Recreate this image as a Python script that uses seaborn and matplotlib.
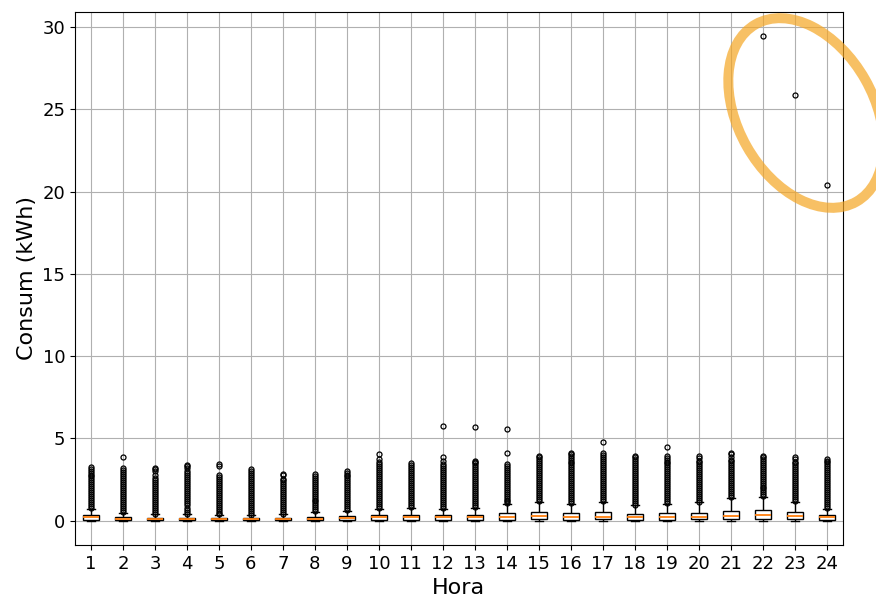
import numpy as np
import pandas as pd
import matplotlib
matplotlib.use("Agg")
import matplotlib.pyplot as plt
import seaborn as sns
from matplotlib.patches import Ellipse

hours = list(range(1, 25))
q1 = [0.06, 0.04, 0.03, 0.03, 0.03, 0.03, 0.03, 0.04, 0.05, 0.06, 0.06, 0.06,
      0.06, 0.07, 0.08, 0.07, 0.08, 0.07, 0.07, 0.08, 0.09, 0.10, 0.09, 0.06]
median = [0.22, 0.13, 0.10, 0.10, 0.08, 0.08, 0.10, 0.13, 0.17, 0.20, 0.20, 0.20,
          0.20, 0.22, 0.26, 0.22, 0.24, 0.22, 0.22, 0.24, 0.28, 0.33, 0.28, 0.20]
q3 = [0.34, 0.22, 0.18, 0.18, 0.16, 0.15, 0.18, 0.24, 0.28, 0.34, 0.36, 0.34,
      0.36, 0.45, 0.52, 0.46, 0.52, 0.42, 0.46, 0.50, 0.62, 0.64, 0.52, 0.34]
whisker_low = [0.0] * 24
whisker_high = [0.74, 0.47, 0.39, 0.39, 0.34, 0.32, 0.39, 0.52, 0.60, 0.74, 0.79, 0.74,
                0.79, 1.00, 1.16, 1.03, 1.16, 0.93, 1.03, 1.11, 1.40, 1.43, 1.15, 0.74]

out_h01 = [0.80, 0.92, 1.03, 1.15, 1.27, 1.38, 1.50, 1.62, 1.74, 1.85, 1.97, 2.09, 2.21, 2.33,
           2.45, 2.57, 2.69, 2.81, 2.93, 3.05, 3.16, 3.25]
out_h02 = [0.52, 0.64, 0.76, 0.88, 1.00, 1.12, 1.25, 1.37, 1.49, 1.61, 1.73, 1.86, 1.98, 2.10,
           2.23, 2.35, 2.48, 2.60, 2.72, 2.85, 2.97, 3.08, 3.20, 3.90]
out_h03 = [0.43, 0.55, 0.67, 0.79, 0.91, 1.03, 1.15, 1.27, 1.39, 1.51, 1.63, 1.75, 1.88, 2.00,
           2.12, 2.25, 2.38, 2.50, 2.62, 2.75, 3.05, 3.12, 3.18]
out_h04 = [0.43, 0.55, 0.68, 0.80, 0.93, 1.05, 1.18, 1.30, 1.43, 1.55, 1.68, 1.80, 1.93, 2.05,
           2.18, 2.30, 2.43, 2.55, 2.68, 2.80, 2.93, 3.05, 3.18, 3.30, 3.40]
out_h05 = [0.38, 0.50, 0.62, 0.74, 0.86, 0.98, 1.10, 1.22, 1.34, 1.46, 1.58, 1.70, 1.82, 1.94,
           2.06, 2.18, 2.30, 2.42, 2.55, 2.68, 2.80, 3.35, 3.42]
out_h06 = [0.36, 0.48, 0.60, 0.72, 0.84, 0.96, 1.08, 1.20, 1.32, 1.44, 1.56, 1.68, 1.80, 1.92,
           2.04, 2.16, 2.28, 2.40, 2.52, 2.64, 2.76, 2.88, 3.00, 3.12]
out_h07 = [0.43, 0.55, 0.67, 0.79, 0.91, 1.03, 1.15, 1.27, 1.39, 1.51, 1.63, 1.75, 1.87, 1.99,
           2.11, 2.23, 2.35, 2.47, 2.55, 2.75, 2.85]
out_h08 = [0.57, 0.69, 0.81, 0.93, 1.05, 1.17, 1.29, 1.41, 1.53, 1.65, 1.77, 1.89, 2.01, 2.13,
           2.25, 2.37, 2.49, 2.61, 2.73, 2.85]
out_h09 = [0.65, 0.77, 0.89, 1.01, 1.13, 1.25, 1.37, 1.49, 1.61, 1.73, 1.85, 1.97, 2.09, 2.21,
           2.33, 2.45, 2.57, 2.69, 2.81, 2.92, 3.02]
out_h10 = [0.80, 0.92, 1.04, 1.16, 1.28, 1.40, 1.52, 1.64, 1.76, 1.88, 2.00, 2.12, 2.24, 2.36,
           2.48, 2.60, 2.72, 2.84, 2.96, 3.08, 3.20, 3.32, 3.44, 3.56, 3.75, 4.05]
out_h11 = [0.84, 0.96, 1.08, 1.20, 1.32, 1.44, 1.56, 1.68, 1.80, 1.92, 2.04, 2.16, 2.28, 2.40,
           2.52, 2.64, 2.76, 2.88, 3.00, 3.12, 3.24, 3.36, 3.48]
out_h12 = [0.80, 0.92, 1.04, 1.16, 1.28, 1.40, 1.52, 1.64, 1.76, 1.88, 2.00, 2.12, 2.24, 2.36,
           2.48, 2.60, 2.72, 2.84, 2.96, 3.08, 3.20, 3.32, 3.42, 3.62, 3.90, 5.75]
out_h13 = [0.84, 0.96, 1.08, 1.20, 1.32, 1.44, 1.56, 1.68, 1.80, 1.92, 2.04, 2.16, 2.28, 2.40,
           2.52, 2.64, 2.76, 2.88, 3.00, 3.12, 3.24, 3.36, 3.48, 3.58, 3.66, 5.70]
out_h14 = [1.05, 1.17, 1.29, 1.41, 1.53, 1.65, 1.77, 1.89, 2.01, 2.13, 2.25, 2.37, 2.49, 2.61,
           2.73, 2.85, 2.97, 3.09, 3.21, 3.33, 3.45, 4.10, 5.60]
out_h15 = [1.22, 1.34, 1.46, 1.58, 1.70, 1.82, 1.94, 2.06, 2.18, 2.30, 2.42, 2.54, 2.66, 2.78,
           2.90, 3.02, 3.14, 3.26, 3.38, 3.50, 3.62, 3.74, 3.85, 3.95]
out_h16 = [1.08, 1.20, 1.32, 1.44, 1.56, 1.68, 1.80, 1.92, 2.04, 2.16, 2.28, 2.40, 2.52, 2.64,
           2.76, 2.88, 3.00, 3.12, 3.24, 3.36, 3.48, 3.60, 3.72, 3.84, 3.95, 4.05, 4.12]
out_h17 = [1.22, 1.34, 1.46, 1.58, 1.70, 1.82, 1.94, 2.06, 2.18, 2.30, 2.42, 2.54, 2.66, 2.78,
           2.90, 3.02, 3.14, 3.26, 3.38, 3.50, 3.62, 3.74, 3.86, 3.98, 4.10, 4.78]
out_h18 = [0.98, 1.10, 1.22, 1.34, 1.46, 1.58, 1.70, 1.82, 1.94, 2.06, 2.18, 2.30, 2.42, 2.54,
           2.66, 2.78, 2.90, 3.02, 3.14, 3.26, 3.38, 3.50, 3.62, 3.74, 3.86, 3.92]
out_h19 = [1.08, 1.20, 1.32, 1.44, 1.56, 1.68, 1.80, 1.92, 2.04, 2.16, 2.28, 2.40, 2.52, 2.64,
           2.76, 2.88, 3.00, 3.12, 3.24, 3.36, 3.48, 3.60, 3.72, 3.84, 3.92, 4.48]
out_h20 = [1.16, 1.28, 1.40, 1.52, 1.64, 1.76, 1.88, 2.00, 2.12, 2.24, 2.36, 2.48, 2.60, 2.72,
           2.84, 2.96, 3.08, 3.20, 3.32, 3.44, 3.56, 3.65, 3.80, 3.92]
out_h21 = [1.45, 1.57, 1.69, 1.81, 1.93, 2.05, 2.17, 2.29, 2.41, 2.53, 2.65, 2.77, 2.89, 3.01,
           3.13, 3.25, 3.37, 3.49, 3.61, 3.70, 3.90, 4.05, 4.12]
out_h22 = [1.48, 1.60, 1.72, 1.84, 1.96, 2.08, 2.20, 2.32, 2.44, 2.56, 2.68, 2.80, 2.92, 3.04,
           3.16, 3.28, 3.40, 3.52, 3.64, 3.76, 3.86, 3.94, 29.45]
out_h23 = [1.20, 1.32, 1.44, 1.56, 1.68, 1.80, 1.92, 2.04, 2.16, 2.28, 2.40, 2.52, 2.64, 2.76,
           2.88, 3.00, 3.12, 3.24, 3.36, 3.48, 3.60, 3.75, 3.88, 25.90]
out_h24 = [0.80, 0.92, 1.04, 1.16, 1.28, 1.40, 1.52, 1.64, 1.76, 1.88, 2.00, 2.12, 2.24, 2.36,
           2.48, 2.60, 2.72, 2.84, 2.96, 3.08, 3.20, 3.32, 3.44, 3.56, 3.66, 3.74, 20.40]

outliers = [out_h01, out_h02, out_h03, out_h04, out_h05, out_h06, out_h07, out_h08,
            out_h09, out_h10, out_h11, out_h12, out_h13, out_h14, out_h15, out_h16,
            out_h17, out_h18, out_h19, out_h20, out_h21, out_h22, out_h23, out_h24]

# Build a sample per hour whose box-plot statistics equal the values read above
rows_h, rows_v = [], []
for i, h in enumerate(hours):
    out = sorted(outliers[i])
    m = len(out)
    j = m + 2
    vals = ([whisker_low[i]] + [q1[i]] * j + [median[i]] * j + [q3[i]] * j
            + [whisker_high[i]] * (j - m) + out)
    rows_h += [h] * len(vals)
    rows_v += vals
df = pd.DataFrame({"Hora": rows_h, "Consum": rows_v})

fig = plt.figure(figsize=(8.76, 5.99), dpi=100)
ax = fig.add_axes([0.0856, 0.0902, 0.962 - 0.0856, 0.98 - 0.0902])

sns.boxplot(data=df, x="Hora", y="Consum", ax=ax, color="white", linecolor="black",
            linewidth=1.0, width=0.5, saturation=1, fliersize=3.6,
            medianprops=dict(color="#ff7f0e", linewidth=1.3),
            flierprops=dict(marker="o", markerfacecolor="none",
                            markeredgecolor="black", markeredgewidth=0.9))

ax.grid(True, color="#b0b0b0", linewidth=0.8)
ax.set_axisbelow(True)
ax.set_xlabel("Hora", fontsize=16)
ax.set_ylabel("Consum (kWh)", fontsize=16)
ax.tick_params(labelsize=13)
for s in ax.spines.values():
    s.set_color("black")
    s.set_linewidth(0.8)

ell = Ellipse((8.06, 4.86), 2.04, 1.36, angle=-60.4, fill=False,
              edgecolor="#F5A623", alpha=0.7, linewidth=7.2,
              transform=fig.dpi_scale_trans)
fig.add_artist(ell)

fig.savefig("out.png", dpi=100)
